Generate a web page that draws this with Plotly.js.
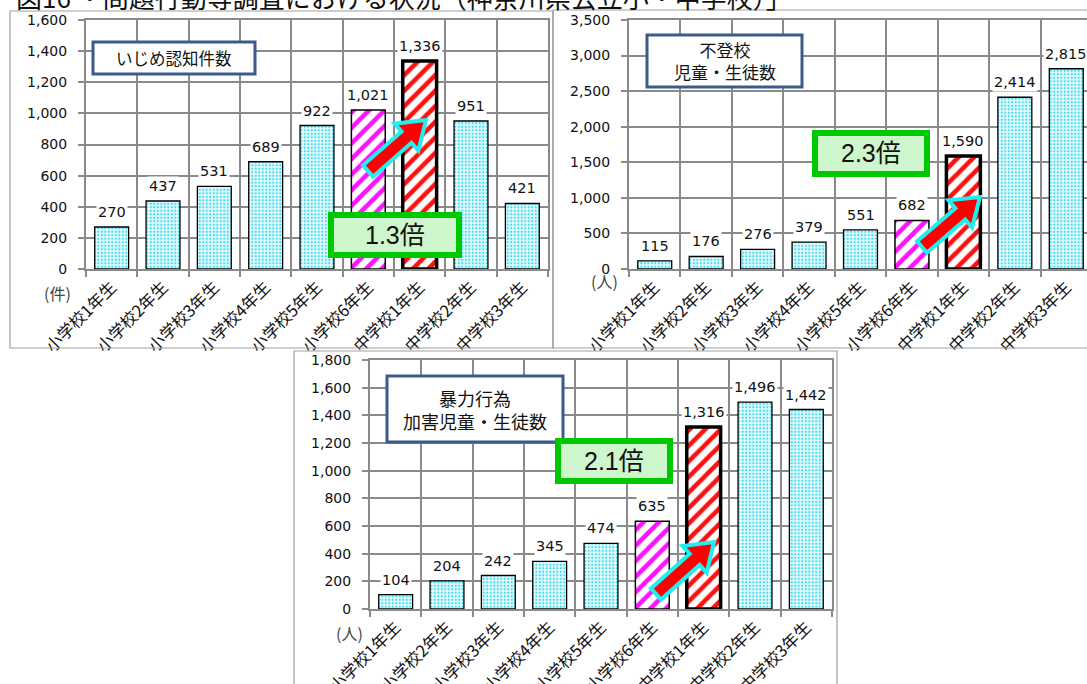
<!DOCTYPE html>
<html><head><meta charset="utf-8">
<script src="https://cdn.plot.ly/plotly-3.0.1.min.js"></script>
<style>html,body{margin:0;padding:0;overflow:hidden;background:#fff}#c{width:1100px;height:684px}</style>
</head><body><div id="c"></div>
<script>
const categories = ['小学校1年生','小学校2年生','小学校3年生','小学校4年生','小学校5年生','小学校6年生','中学校1年生','中学校2年生','中学校3年生'];
const bullyingCounts = [270,437,531,689,922,1021,1336,951,421];
const truancyCounts = [115,176,276,379,551,682,1590,2414,2815];
const violenceCounts = [104,204,242,345,474,635,1316,1496,1442];
const panelTitles = ['いじめ認知件数','不登校<br>児童・生徒数','暴力行為<br>加害児童・生徒数'];
const ratioLabels = ['1.3倍','2.3倍','2.1倍'];
const unitLabels = ['(件)','(人)','(人)'];
const yMax = [1600,3500,1800];
const yStep = [200,500,200];
const figTitle = '図16 ・問題行動等調査における状況（神奈川県公立小・中学校）」';

const W = 1100, H = 684;
const px = x => x / W, py = y => 1 - y / H;
const GRID = '#8a8a8a';
const JP = 'Noto Sans CJK JP';
const NUM = 'DejaVu Sans, Noto Sans CJK JP';

// bar groups: index -> style
const styles = [
  {pick:i=>i!==5&&i!==6, shape:'.', fg:'#3cdcf0', bg:'#e4fafd', size:3.5, sol:0.3, lw:1.3},
  {pick:i=>i===5, shape:'/', fg:'#ff10ff', bg:'#ffffff', size:11, sol:0.42, lw:1.5},
  {pick:i=>i===6, shape:'/', fg:'#ff1010', bg:'#ffffff', size:11, sol:0.42, lw:3.5}
];

const series = [bullyingCounts, truancyCounts, violenceCounts];
const xDom = [[86,548],[629,1092],[370,832]];
const yDom = [[20,269],[20,269],[360,609]];

const data = [], layout = {
  width: W, height: H, margin:{l:0,r:0,t:0,b:0}, paper_bgcolor:'#fff', plot_bgcolor:'#fff',
  showlegend:false, bargap:0.34, barmode:'overlay', annotations:[], shapes:[], font:{family:NUM,color:'#111'}
};

series.forEach((vals, k) => {
  const xa = k===0?'x':'x'+(k+1), ya = k===0?'y':'y'+(k+1);
  styles.forEach(s => {
    data.push({type:'bar', x:categories, y:vals.map((v,i)=>s.pick(i)?v:null), xaxis:xa, yaxis:ya, hoverinfo:'skip',
      marker:{color:s.bg, line:{color:'#000',width:s.lw},
        pattern:{shape:s.shape, fgcolor:s.fg, bgcolor:s.bg, size:s.size, solidity:s.sol, fgopacity:1, fillmode:'overlay'}}});
  });
  const xk = k===0?'xaxis':'xaxis'+(k+1), yk = k===0?'yaxis':'yaxis'+(k+1);
  layout[xk] = {domain:[px(xDom[k][0]),px(xDom[k][1])], anchor:ya, type:'category', range:[-0.5,8.5],
    tickson:'boundaries', showgrid:true, gridcolor:GRID, gridwidth:2, showline:true, linecolor:GRID, linewidth:2, mirror:true,
    ticks:'outside', ticklen:6, tickcolor:GRID, tickwidth:2, tickangle:-45,
    tickfont:{family:JP,size:16.5,color:'#111'}, fixedrange:true};
  layout[yk] = {domain:[py(yDom[k][1]),py(yDom[k][0])], anchor:xa, range:[0,yMax[k]], dtick:yStep[k], tick0:0,
    tickformat:',d', showgrid:true, gridcolor:GRID, gridwidth:2, zeroline:false, showline:true, linecolor:GRID, linewidth:2, mirror:true,
    ticks:'outside', ticklen:6, tickcolor:GRID, tickwidth:2, ticklabelstandoff:8,
    tickfont:{family:NUM,size:14,color:'#111'}, fixedrange:true};
  vals.forEach((v,i) => {
    layout.annotations.push({xref:xa, yref:ya, x:categories[i], y:v, text:v.toLocaleString('en-US'),
      showarrow:false, yanchor:'bottom', yshift:5, bgcolor:'#fff', borderpad:1,
      font:{family:NUM,size:14.5,color:'#111'}});
  });
});

// panel frames
const frames = [[10,11,553,348],[553,10,1105,348],[294,351,837,690]];
frames.forEach(f => layout.shapes.push({type:'rect',xref:'paper',yref:'paper',x0:px(f[0]),x1:px(f[2]),y0:py(f[3]),y1:py(f[1]),line:{color:'#a0a0a0',width:1.2},fillcolor:'rgba(0,0,0,0)'}));

// panel title boxes
const tboxes = [[93,42,255,74,16.5],[647,35,802,87,17],[387,376,563,442,18]];
tboxes.forEach((b,k) => {
  layout.shapes.push({type:'rect',xref:'paper',yref:'paper',x0:px(b[0]),x1:px(b[2]),y0:py(b[3]),y1:py(b[1]),line:{color:'#3c5a8c',width:3},fillcolor:'#fff'});
  layout.annotations.push({xref:'paper',yref:'paper',x:px((b[0]+b[2])/2),y:py((b[1]+b[3])/2),text:panelTitles[k],showarrow:false,
    xanchor:'center',yanchor:'middle',font:{family:JP,size:b[4],color:'#111'}});
});

// arrows
function arrow(x0,y0,x1,y1){
  const dx=x1-x0, dy=y1-y0, L=Math.hypot(dx,dy), ux=dx/L, uy=dy/L, nx=-uy, ny=ux;
  const sw=7.5, hw=18, hl=26, bx=x1-ux*hl, by=y1-uy*hl;
  const pts=[[x0+nx*sw,y0+ny*sw],[bx+nx*sw,by+ny*sw],[bx+nx*hw,by+ny*hw],[x1,y1],[bx-nx*hw,by-ny*hw],[bx-nx*sw,by-ny*sw],[x0-nx*sw,y0-ny*sw]];
  return 'M'+pts.map(p=>px(p[0]).toFixed(5)+','+py(p[1]).toFixed(5)).join(' L')+' Z';
}
const arrows = [[368,171,426,120],[922,247,980,197],[656,594,714,542]];
// green ratio boxes
const gboxes = [[328,212,462,258],[812,130,930,177],[555,438,673,484]];
gboxes.forEach((b,k) => {
  layout.shapes.push({type:'rect',xref:'paper',yref:'paper',x0:px(b[0]+3),x1:px(b[2]-3),y0:py(b[3]-3),y1:py(b[1]+3),line:{color:'#00c800',width:6},fillcolor:'#cdf6cd'});
  layout.annotations.push({xref:'paper',yref:'paper',x:px((b[0]+b[2])/2),y:py((b[1]+b[3])/2),text:ratioLabels[k],showarrow:false,
    xanchor:'center',yanchor:'middle',font:{family:'Liberation Sans, Noto Sans CJK JP',size:25,color:'#111'}});
});
arrows.forEach(a => layout.shapes.push({type:'path',xref:'paper',yref:'paper',path:arrow(a[0],a[1],a[2],a[3]),fillcolor:'#ff0000',line:{color:'#22eef0',width:4}}));

// unit labels
const units = [[57,293],[604,281],[349,633]];
units.forEach((u,k) => layout.annotations.push({xref:'paper',yref:'paper',x:px(u[0]),y:py(u[1]),text:unitLabels[k],showarrow:false,
  xanchor:'center',yanchor:'middle',font:{family:JP,size:16,color:'#444'}}));

// figure title (top clipped)
layout.annotations.push({xref:'paper',yref:'paper',x:px(14),y:py(-4),text:figTitle,showarrow:false,xanchor:'left',yanchor:'middle',
  font:{family:JP,size:26,color:'#111'}});

Plotly.newPlot('c', data, layout, {staticPlot:true, displayModeBar:false});
</script></body></html>
